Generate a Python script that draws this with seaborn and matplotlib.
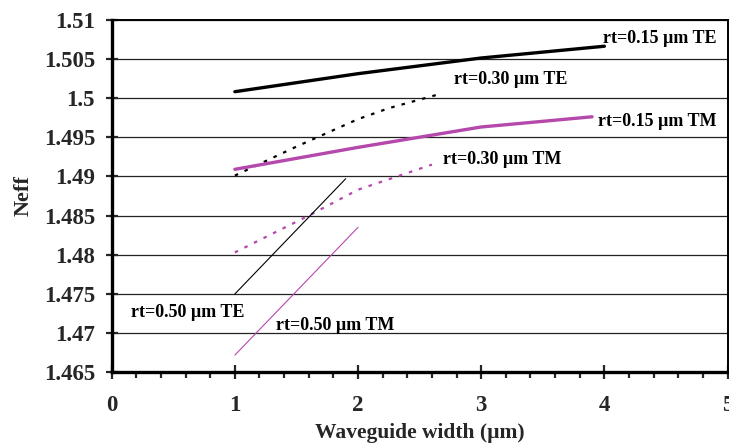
import matplotlib
matplotlib.use("Agg")
import matplotlib.pyplot as plt
from matplotlib.ticker import MultipleLocator, FixedLocator, FixedFormatter
import seaborn as sns
import pandas as pd

# Effective index versus waveguide width for several rib heights (rt)
te015_x = [1.0, 2.0, 3.0, 4.0]
te015_y = [1.5008, 1.5031, 1.5051, 1.5066]

te030_x = [1.0, 1.5, 2.0, 2.25, 2.64]
te030_y = [1.4901, 1.4938, 1.4973, 1.4987, 1.5004]

tm015_x = [1.0, 2.0, 3.0, 3.9]
tm015_y = [1.4909, 1.4937, 1.4963, 1.4976]

tm030_x = [1.0, 1.6, 2.0, 2.6]
tm030_y = [1.4803, 1.4850, 1.4883, 1.4915]

te050_x = [1.0, 1.9]
te050_y = [1.4750, 1.4897]

tm050_x = [1.0, 2.0]
tm050_y = [1.4672, 1.4835]

series_names = ["rt=0.15 µm TE", "rt=0.30 µm TE", "rt=0.15 µm TM",
                "rt=0.30 µm TM", "rt=0.50 µm TE", "rt=0.50 µm TM"]

y_ticks = [1.465, 1.47, 1.475, 1.48, 1.485, 1.49, 1.495, 1.5, 1.505, 1.51]
y_tick_labels = ["1.465", "1.47", "1.475", "1.48", "1.485", "1.49",
                 "1.495", "1.5", "1.505", "1.51"]
x_ticks = [0, 1, 2, 3, 4, 5]
x_tick_labels = ["0", "1", "2", "3", "4", "5"]

sns.set_style("white")
plt.rcParams["font.family"] = ["Liberation Serif", "DejaVu Serif"]
plt.rcParams["font.weight"] = "bold"

MAGENTA = "#B548AB"

fig = plt.figure(figsize=(7.29, 4.48), dpi=100)
ax = fig.add_axes([0.1532, 0.1688, 0.998 - 0.1532, 0.9563 - 0.1688])

styles = [
    (te015_x, te015_y, "black", "-", 2.4),
    (te030_x, te030_y, "black", (0, (1.6, 3.2)), 1.6),
    (tm015_x, tm015_y, MAGENTA, "-", 2.4),
    (tm030_x, tm030_y, MAGENTA, (0, (1.6, 3.2)), 1.6),
    (te050_x, te050_y, "black", "-", 0.8),
    (tm050_x, tm050_y, MAGENTA, "-", 0.8),
]
for name, (xs, ys, col, ls, lw) in zip(series_names, styles):
    df = pd.DataFrame({"width": xs, "neff": ys})
    sns.lineplot(data=df, x="width", y="neff", ax=ax, color=col,
                 linestyle=ls, linewidth=lw, sort=False, estimator=None,
                 legend=False)

ax.set_xlim(0, 5)
ax.set_ylim(1.465, 1.51)

ax.xaxis.set_major_locator(FixedLocator(x_ticks))
ax.xaxis.set_major_formatter(FixedFormatter(x_tick_labels))
ax.xaxis.set_minor_locator(MultipleLocator(0.2))
ax.yaxis.set_major_locator(FixedLocator(y_ticks))
ax.yaxis.set_major_formatter(FixedFormatter(y_tick_labels))

ax.yaxis.grid(True, color="#222222", linewidth=0.9)
ax.xaxis.grid(False)
ax.set_axisbelow(True)

for side in ("left", "bottom"):
    ax.spines[side].set_linewidth(2.4)
    ax.spines[side].set_color("black")
for side in ("top", "right"):
    ax.spines[side].set_linewidth(1.4)
    ax.spines[side].set_color("black")

ax.tick_params(axis="y", which="major", direction="inout", length=8,
               width=1.6, pad=8, labelsize=16.5, left=True)
ax.tick_params(axis="x", which="major", direction="inout", length=10,
               width=1.6, pad=11, labelsize=16.5, bottom=True)
ax.tick_params(axis="x", which="minor", direction="out", length=4,
               width=1.6, bottom=True)
for lbl in ax.get_xticklabels() + ax.get_yticklabels():
    lbl.set_fontweight("bold")

ax.set_xlabel("Waveguide width (µm)", fontsize=15.5, fontweight="bold",
              labelpad=5)
ax.set_ylabel("Neff", fontsize=16, fontweight="bold", labelpad=7)

# Curve annotations
label_pos = [(3.99, 1.50765), (2.78, 1.5023), (3.95, 1.4970),
             (2.69, 1.4921), (0.157, 1.4727), (1.333, 1.4710)]
for name, (tx, ty) in zip(series_names, label_pos):
    ax.text(tx, ty, name, fontsize=13, fontweight="bold",
            ha="left", va="center", color="black")

fig.savefig("out.png", dpi=100)
